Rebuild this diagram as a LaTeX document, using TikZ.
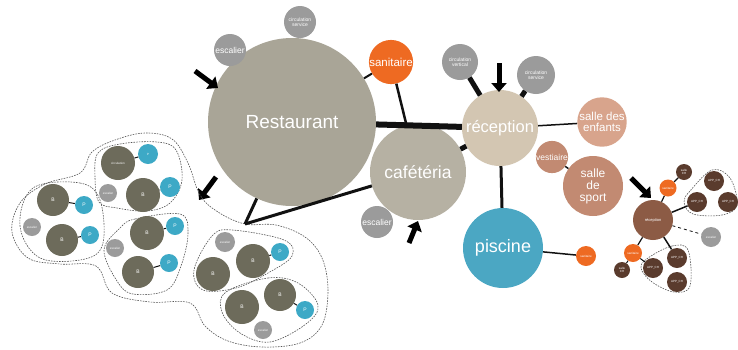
\documentclass[tikz,border=0pt]{standalone}
\usepackage{fontspec}
\setmainfont{Liberation Sans}
\usetikzlibrary{arrows.meta}

\definecolor{restc}{HTML}{A9A597}
\definecolor{cafec}{HTML}{B6B1A3}
\definecolor{recc}{HTML}{D3C6B2}
\definecolor{grayc}{HTML}{9B9B9B}
\definecolor{sanc}{HTML}{EE6A22}
\definecolor{piscc}{HTML}{4BA7C3}
\definecolor{enfc}{HTML}{D8A48C}
\definecolor{sportc}{HTML}{C28A72}
\definecolor{brownc}{HTML}{8C5B45}
\definecolor{darkbc}{HTML}{5A3B2D}
\definecolor{bc}{HTML}{6D6B5B}
\definecolor{pc}{HTML}{3DA9C6}
\definecolor{linec}{HTML}{111111}
\definecolor{dashc}{HTML}{555555}

\begin{document}
\begin{tikzpicture}[x=1pt,y=-1pt,
  room/.style={circle, inner sep=0pt, text=white, align=center, font=\fontsize{#1}{#1}\selectfont},
  room/.default=4,
  link/.style={draw=linec, line width=#1},
  link/.default=1.5pt,
  outline/.style={draw=dashc, line width=0.6pt, dash pattern=on 1.6pt off 1.1pt},
  pointer/.style={draw=black, line width=5pt, -{Triangle[length=9pt,width=15pt]}},
  tiny/.style={font=\fontsize{3.2}{3.6}\selectfont}]
\useasboundingbox (0,0) rectangle (738,349);

% ---- main rooms
\node[room=19, fill=restc, minimum size=168pt] (rest) at (292,122) {Restaurant};
\node[room=17.5, fill=cafec, minimum size=96pt] (cafe) at (418,172) {cafétéria};
\node[room=16.5, fill=recc, minimum size=76pt] (rec) at (500,128) {réception};
\node[room=18, fill=piscc, minimum size=80pt] (pisc) at (503,248) {piscine};
\node[room=11.5, fill=sanc, minimum size=42pt] (san) at (391,62) {sanitaire};
\node[room=8.5, fill=grayc, minimum size=32pt] (esc1) at (230,50) {escalier};
\node[room=8.5, fill=grayc, minimum size=32pt] (esc2) at (377,222) {escalier};
\node[room=5, fill=grayc, minimum size=32pt] (circs1) at (300,22) {circulation\\service};
\node[room=5, fill=grayc, minimum size=36pt] (circv) at (460,62) {circulation\\vertical};
\node[room=5, fill=grayc, minimum size=38pt] (circs2) at (536,75) {circulation\\service};
\node[room=11.5, fill=enfc, minimum size=48pt] (enf) at (602,122) {salle des\\enfants};
\node[room=8.5, fill=sportc, minimum size=32pt] (vest) at (552,157) {vestiaire};
\node[room=12, fill=sportc, minimum size=60pt] (sport) at (593,186) {salle\\de\\sport};
\node[room=3, fill=sanc, minimum size=20pt] (sanp) at (586,256) {sanitaire};

% ---- connectors of the main rooms
\draw[link=6pt] (rest) -- (rec);
\draw[link=5pt] (cafe) -- (rec);
\draw[link=5pt] (circv) -- (rec);
\draw[link=5pt] (circs2) -- (rec);
\draw[link=2.5pt] (san) -- (cafe);
\draw[link=2pt] (rest) -- (san);
\draw[link=1pt] (rest) -- (circs1);
\draw[link=1.5pt] (rec) -- (enf);
\draw[link=3pt] (rec) -- (pisc);
\draw[link=1.5pt] (pisc) -- (sanp);
\draw[link=1.5pt] (vest) -- (sport);

% ---- accesses
\coordinate (a1s) at (195,71);  \coordinate (a1e) at (218,88);
\coordinate (a2s) at (216,177); \coordinate (a2e) at (199,200);
\coordinate (a3s) at (499,63);  \coordinate (a3e) at (499,92);
\coordinate (a4s) at (409,243); \coordinate (a4e) at (418,221);
\coordinate (a5s) at (631,178); \coordinate (a5e) at (651,198);
\draw[pointer] (a1s) -- (a1e);
\draw[pointer] (a2s) -- (a2e);
\draw[pointer] (a3s) -- (a3e);
\draw[pointer] (a4s) -- (a4e);
\draw[pointer] (a5s) -- (a5e);

% ---- housing cluster
\draw[outline] plot[smooth cycle, tension=0.6] coordinates {
  (12,232) (20,203) (45,184) (80,173) (92,152) (115,140) (145,133) (172,139)
  (188,163) (200,195) (218,212) (245,224) (276,225) (305,237) (322,258)
  (328,290) (322,325) (300,343) (262,347) (228,341) (205,326) (190,303)
  (150,302) (112,293) (96,266) (60,264) (28,258)};
\coordinate (neck) at (245,224);
\draw[link=3pt] (neck) -- (rest);
\draw[link=3pt] (neck) -- (cafe);

% left group
\draw[outline] plot[smooth cycle, tension=0.6] coordinates {
  (33,188) (80,183) (100,200) (103,243) (85,259) (40,258) (20,226)};
\node[room=5, fill=bc, minimum size=32pt] (lb1) at (53,200) {B};
\node[room=5, fill=pc, minimum size=18pt] (lp1) at (84,205) {P};
\node[room=5, fill=bc, minimum size=32pt] (lb2) at (62,240) {B};
\node[room=5, fill=pc, minimum size=18pt] (lp2) at (90,235) {P};
\node[room=3, fill=grayc, minimum size=18pt] (lg) at (32,227) {escalier};
\draw[link=1pt] (lb1) -- (lp1);
\draw[link=1pt] (lb2) -- (lp2);

% upper group
\draw[outline] plot[smooth cycle, tension=0.6] coordinates {
  (98,153) (120,144) (157,142) (176,150) (182,180) (170,203) (147,211)
  (117,208) (99,202) (95,177)};
\node[room=3, fill=bc, minimum size=34pt] (ub1) at (118,163) {circulation};
\node[room=3, fill=pc, minimum size=20pt] (up1) at (148,154) {P};
\node[room=5, fill=bc, minimum size=34pt] (ub2) at (143,195) {B};
\node[room=5, fill=pc, minimum size=20pt] (up2) at (170,187) {P};
\node[room=3, fill=grayc, minimum size=18pt] (ug) at (108,193) {escalier};
\draw[link=1pt] (ub1) -- (up1);
\draw[link=1pt] (ub2) -- (up2);

% middle group
\draw[outline] plot[smooth cycle, tension=0.6] coordinates {
  (120,228) (135,219) (180,214) (188,233) (181,266) (167,290) (133,294)
  (117,281) (104,250)};
\node[room=5, fill=bc, minimum size=34pt] (mb1) at (147,233) {B};
\node[room=5, fill=pc, minimum size=18pt] (mp1) at (175,226) {P};
\node[room=5, fill=bc, minimum size=32pt] (mb2) at (138,272) {B};
\node[room=5, fill=pc, minimum size=18pt] (mp2) at (169,263) {P};
\node[room=3, fill=grayc, minimum size=18pt] (mg) at (115,248) {escalier};
\draw[link=1pt] (mb1) -- (mp1);
\draw[link=1pt] (mb2) -- (mp2);

% right group, upper part
\draw[outline] plot[smooth cycle, tension=0.6] coordinates {
  (212,236) (232,230) (284,240) (292,256) (268,273) (236,288) (203,290)
  (194,270)};
\node[room=3, fill=grayc, minimum size=20pt] (rg1) at (225,242) {escalier};
\node[room=5, fill=bc, minimum size=34pt] (rb1) at (253,261) {B};
\node[room=5, fill=pc, minimum size=18pt] (rp1) at (280,252) {P};
\node[room=5, fill=bc, minimum size=34pt] (rb2) at (213,274) {B};
\draw[link=1pt] (rb1) -- (rp1);

% right group, lower part
\draw[outline] plot[smooth cycle, tension=0.6] coordinates {
  (226,292) (268,278) (298,283) (318,305) (306,324) (270,342) (240,333)
  (222,312)};
\node[room=5, fill=bc, minimum size=32pt] (rb3) at (280,295) {B};
\node[room=5, fill=pc, minimum size=18pt] (rp3) at (305,310) {P};
\node[room=5, fill=bc, minimum size=34pt] (rb4) at (242,307) {B};
\node[room=3, fill=grayc, minimum size=18pt] (rg2) at (263,330) {escalier};
\draw[link=1pt] (rb3) -- (rp3);

% ---- hotel cluster
\draw[outline] plot[smooth cycle, tension=0.6] coordinates {
  (690,191) (712,170) (730,178) (737,205) (722,215) (693,214) (684,202)};
\draw[outline] plot[smooth cycle, tension=0.6] coordinates {
  (648,258) (672,246) (688,250) (690,286) (674,292) (652,282) (641,268)};
\node[room=4, fill=brownc, minimum size=40pt] (hrec) at (653,220) {réception};
\node[room=3, fill=sanc, minimum size=17pt] (hs1) at (668,188) {sanitaire};
\node[room=3, fill=darkbc, minimum size=16pt] (hd1) at (684,172) {salle\\CH};
\node[room=3, fill=darkbc, minimum size=20pt] (hc1) at (714,181) {APP\_CH};
\node[room=3, fill=darkbc, minimum size=20pt] (hc2) at (697,202) {APP\_CH};
\node[room=3, fill=darkbc, minimum size=20pt] (hc3) at (728,202) {APP\_CH};
\node[room=3, fill=grayc, minimum size=20pt] (hg) at (711,237) {escalier};
\node[room=3, fill=sanc, minimum size=18pt] (hs2) at (633,253) {sanitaire};
\node[room=3, fill=darkbc, minimum size=16pt] (hd2) at (622,270) {salle\\CH};
\node[room=3, fill=darkbc, minimum size=20pt] (hc4) at (677,258) {APP\_CH};
\node[room=3, fill=darkbc, minimum size=20pt] (hc5) at (653,268) {APP\_CH};
\node[room=3, fill=darkbc, minimum size=20pt] (hc6) at (677,282) {APP\_CH};
\draw[link=1.2pt] (hrec) -- (hs1);
\draw[link=1.2pt] (hs1) -- (hd1);
\draw[link=1.5pt] (hrec) -- (hc2);
\draw[link=0.8pt, dashed] (hrec) -- (hg);
\draw[link=1.2pt] (hrec) -- (hs2);
\draw[link=1.5pt] (hrec) -- (hc4);
\draw[link=1pt] (hs2) -- (hd2);
\draw[link=1pt] (hs2) -- (hc5);
\end{tikzpicture}
\end{document}
